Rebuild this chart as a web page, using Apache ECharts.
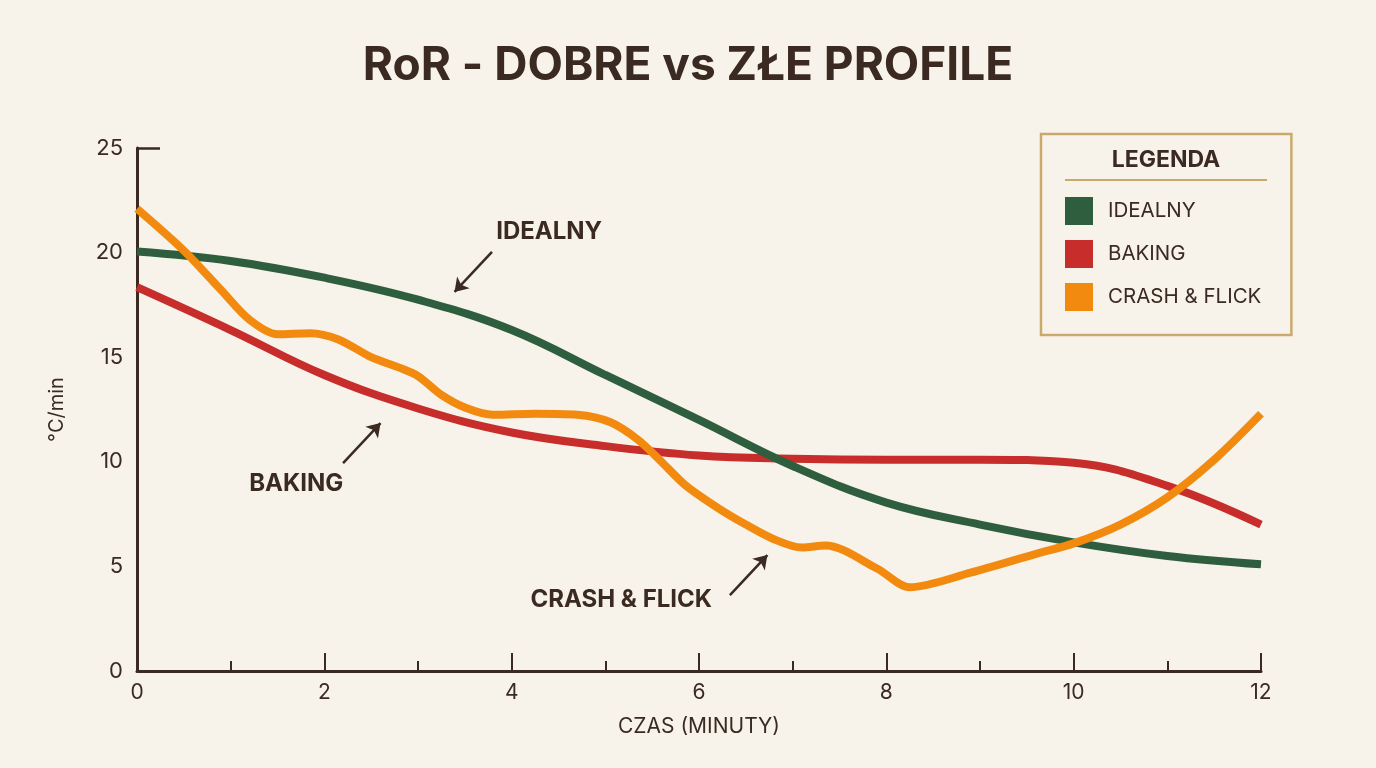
<!DOCTYPE html>
<html>
<head>
<meta charset="utf-8">
<title>RoR - DOBRE vs ZŁE PROFILE</title>
<script src="https://cdn.jsdelivr.net/npm/echarts@6/dist/echarts.min.js"></script>
<style>
  html, body { margin: 0; padding: 0; background: #f7f3ea; }
  #chart { width: 1376px; height: 768px; }
</style>
</head>
<body>
<div id="chart"></div>
<script>
// dane (minuty, °C/min)
var czasIdealny = [0, 1, 2, 3, 4, 5, 6, 7, 8, 9, 10, 11, 12];
var idealny = [20.05, 19.6, 18.8, 17.75, 16.3, 14.15, 12.0, 9.8, 8.05, 7.0, 6.15, 5.5, 5.1];

var czasBaking = [0, 1, 2, 3, 4, 5, 6, 7, 8, 9, 10, 11, 12];
var baking = [18.35, 16.3, 14.15, 12.55, 11.4, 10.75, 10.3, 10.15, 10.1, 10.1, 9.95, 8.85, 7.0];

var czasCrash = [0, 0.5, 0.9, 1.2, 1.5, 1.85, 2.15, 2.5, 2.8, 3.0, 3.25, 3.5, 3.8, 4.25, 4.7, 5.05, 5.35, 5.6, 5.85, 6.2, 6.5, 6.8, 7.1, 7.35, 7.9, 8.25, 8.9, 9.6, 10, 10.5, 11, 11.5, 12];
var crash = [22.1, 20.1, 18.2, 16.8, 16.1, 16.15, 15.85, 15.0, 14.5, 14.1, 13.2, 12.6, 12.25, 12.3, 12.25, 11.9, 11.05, 10.0, 8.9, 7.8, 7.0, 6.3, 5.9, 6.0, 4.9, 4.0, 4.7, 5.6, 6.1, 7.0, 8.3, 10.1, 12.3];

var seriesNames = ['IDEALNY', 'BAKING', 'CRASH & FLICK'];
var seriesColors = ['#2e5e3d', '#c62d2b', '#f28a10'];

var textColor = '#3a2a22';
var fontName = 'Inter';

function pary(xs, ys) {
    return xs.map(function (x, i) { return [x, ys[i]]; });
}

// adnotacje ze strzałkami (w jednostkach danych)
function adnotacja(tekst, tekstPos, od, doPunktu) {
    return {
        markLine: {
            silent: true,
            symbol: ['none', 'arrow'],
            symbolSize: 13,
            lineStyle: { color: textColor, width: 2.5, type: 'solid' },
            label: { show: false },
            data: [[{ coord: od }, { coord: doPunktu }]]
        },
        markPoint: {
            silent: true,
            symbol: 'circle',
            symbolSize: 0,
            label: {
                show: true,
                position: 'inside',
                formatter: tekst,
                color: textColor,
                fontFamily: fontName,
                fontWeight: 'bold',
                fontSize: 24
            },
            data: [{ coord: tekstPos }]
        }
    };
}

var chart = echarts.init(document.getElementById('chart'));

var annIdealny = adnotacja('IDEALNY', [4.4, 20.98], [3.79, 20.03], [3.39, 18.12]);
var annBaking = adnotacja('BAKING', [1.7, 8.94], [2.2, 9.94], [2.6, 11.85]);
var annCrash = adnotacja('CRASH & FLICK', [5.17, 3.39], [6.33, 3.63], [6.73, 5.54]);

var option = {
    backgroundColor: '#f7f3ea',
    animation: false,
    title: {
        text: 'RoR - DOBRE vs ZŁE PROFILE',
        left: 'center',
        top: 38,
        textStyle: {
            color: textColor,
            fontFamily: fontName,
            fontWeight: 'bold',
            fontSize: 46
        }
    },
    legend: {
        orient: 'vertical',
        left: 1041,
        top: 134,
        padding: [63, 30, 24, 24],
        itemWidth: 28,
        itemHeight: 28,
        itemGap: 15,
        icon: 'rect',
        borderColor: '#c9aa6c',
        borderWidth: 2.5,
        data: seriesNames,
        textStyle: {
            color: textColor,
            fontFamily: fontName,
            fontSize: 20.5,
            padding: [0, 0, 0, 10]
        }
    },
    graphic: [
        {
            type: 'text',
            x: 1166,
            y: 160,
            style: {
                text: 'LEGENDA',
                fill: textColor,
                font: 'bold 23px Inter',
                align: 'center',
                verticalAlign: 'middle'
            }
        },
        {
            type: 'line',
            shape: { x1: 1065, y1: 180, x2: 1267, y2: 180 },
            style: { stroke: '#c9aa6c', lineWidth: 2 }
        }
    ],
    grid: {
        left: 137,
        right: 115,
        top: 148,
        bottom: 97
    },
    xAxis: {
        type: 'value',
        min: 0,
        max: 12,
        interval: 2,
        name: 'CZAS (MINUTY)',
        nameLocation: 'middle',
        nameGap: 45,
        nameTextStyle: { color: textColor, fontFamily: fontName, fontSize: 21 },
        axisLine: { show: true, lineStyle: { color: textColor, width: 3 } },
        axisTick: { show: true, inside: true, length: 18, lineStyle: { color: textColor, width: 2 } },
        minorTick: { show: true, splitNumber: 2, length: 10, lineStyle: { color: textColor, width: 2 } },
        axisLabel: { color: textColor, fontFamily: fontName, fontSize: 21, margin: 11 },
        splitLine: { show: false }
    },
    yAxis: {
        type: 'value',
        min: 0,
        max: 25,
        interval: 5,
        name: '°C/min',
        nameLocation: 'middle',
        nameGap: 70,
        nameTextStyle: { color: textColor, fontFamily: fontName, fontSize: 20 },
        axisLine: { show: true, lineStyle: { color: textColor, width: 3 } },
        axisTick: { show: true, inside: true, length: 23, customValues: [25], lineStyle: { color: textColor, width: 2.5 } },
        axisLabel: { color: textColor, fontFamily: fontName, fontSize: 22, margin: 14 },
        splitLine: { show: false }
    },
    series: [
        {
            name: seriesNames[0],
            type: 'line',
            data: pary(czasIdealny, idealny),
            smooth: 0.4,
            showSymbol: false,
            color: seriesColors[0],
            lineStyle: { width: 8, color: seriesColors[0] },
            z: 3,
            markLine: annIdealny.markLine,
            markPoint: annIdealny.markPoint
        },
        {
            name: seriesNames[1],
            type: 'line',
            data: pary(czasBaking, baking),
            smooth: 0.4,
            showSymbol: false,
            color: seriesColors[1],
            lineStyle: { width: 8, color: seriesColors[1] },
            z: 2,
            markLine: annBaking.markLine,
            markPoint: annBaking.markPoint
        },
        {
            name: seriesNames[2],
            type: 'line',
            data: pary(czasCrash, crash),
            smooth: 0.3,
            showSymbol: false,
            color: seriesColors[2],
            lineStyle: { width: 8, color: seriesColors[2] },
            z: 4,
            markLine: annCrash.markLine,
            markPoint: annCrash.markPoint
        }
    ]
};

chart.setOption(option);
</script>
</body>
</html>
